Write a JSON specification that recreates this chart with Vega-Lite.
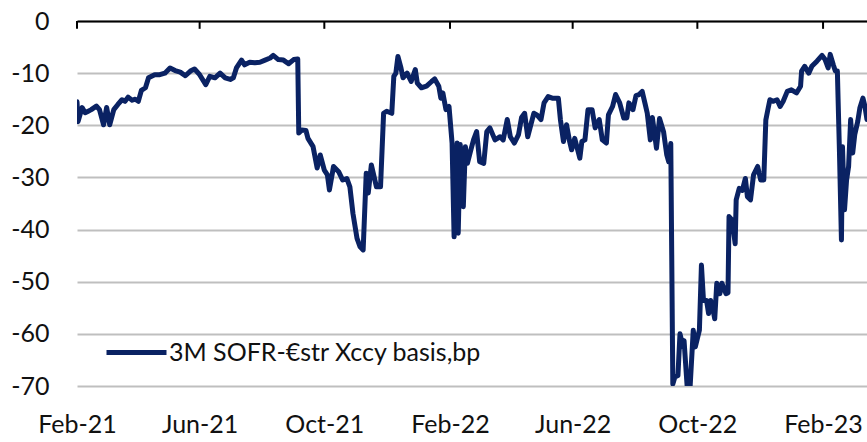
{
  "$schema": "https://vega.github.io/schema/vega-lite/v6.json",
  "autosize": "none",
  "width": 790,
  "height": 365,
  "padding": {"left": 77, "top": 21, "right": 0, "bottom": 56},
  "background": "white",
  "config": {
    "view": {"stroke": null},
    "font": "Lato"
  },
  "datasets": {
    "ticks": [
      {"t":"2021-02-01"},{"t":"2021-06-01"},{"t":"2021-10-01"},{"t":"2022-02-01"},
      {"t":"2022-06-01"},{"t":"2022-10-01"},{"t":"2023-02-01"}
    ],
    "basis": [
      {"d":"2021-02-01","v":-15.5},{"d":"2021-02-02","v":-19.3},{"d":"2021-02-06","v":-16.6},{"d":"2021-02-09","v":-17.6},
      {"d":"2021-02-12","v":-17.3},{"d":"2021-02-15","v":-17.0},{"d":"2021-02-20","v":-16.3},{"d":"2021-02-23","v":-17.0},
      {"d":"2021-02-27","v":-19.9},{"d":"2021-03-02","v":-16.6},{"d":"2021-03-05","v":-19.9},{"d":"2021-03-09","v":-17.0},
      {"d":"2021-03-13","v":-16.0},{"d":"2021-03-17","v":-15.1},{"d":"2021-03-20","v":-15.4},{"d":"2021-03-23","v":-14.6},
      {"d":"2021-03-27","v":-15.2},{"d":"2021-03-30","v":-15.0},{"d":"2021-04-02","v":-15.4},{"d":"2021-04-05","v":-13.3},
      {"d":"2021-04-09","v":-12.8},{"d":"2021-04-12","v":-10.9},{"d":"2021-04-15","v":-10.6},{"d":"2021-04-18","v":-10.3},
      {"d":"2021-04-23","v":-10.3},{"d":"2021-04-28","v":-10.0},{"d":"2021-05-03","v":-9.0},{"d":"2021-05-08","v":-9.5},
      {"d":"2021-05-13","v":-9.8},{"d":"2021-05-18","v":-10.5},{"d":"2021-05-23","v":-9.6},{"d":"2021-05-27","v":-9.2},
      {"d":"2021-06-01","v":-10.3},{"d":"2021-06-07","v":-12.2},{"d":"2021-06-11","v":-10.6},{"d":"2021-06-16","v":-10.9},
      {"d":"2021-06-21","v":-10.0},{"d":"2021-06-26","v":-10.9},{"d":"2021-07-01","v":-11.2},{"d":"2021-07-04","v":-10.9},
      {"d":"2021-07-07","v":-9.0},{"d":"2021-07-12","v":-7.5},{"d":"2021-07-15","v":-8.4},{"d":"2021-07-20","v":-7.9},
      {"d":"2021-07-25","v":-8.0},{"d":"2021-07-30","v":-7.9},{"d":"2021-08-04","v":-7.5},{"d":"2021-08-09","v":-7.1},
      {"d":"2021-08-12","v":-6.6},{"d":"2021-08-17","v":-7.4},{"d":"2021-08-22","v":-7.5},{"d":"2021-08-27","v":-8.2},
      {"d":"2021-09-01","v":-7.4},{"d":"2021-09-05","v":-7.3},{"d":"2021-09-06","v":-21.5},{"d":"2021-09-09","v":-20.9},
      {"d":"2021-09-13","v":-21.0},{"d":"2021-09-15","v":-22.5},{"d":"2021-09-20","v":-24.1},{"d":"2021-09-24","v":-28.2},
      {"d":"2021-09-27","v":-25.7},{"d":"2021-10-01","v":-28.6},{"d":"2021-10-04","v":-29.5},{"d":"2021-10-06","v":-32.4},
      {"d":"2021-10-10","v":-27.9},{"d":"2021-10-15","v":-28.9},{"d":"2021-10-19","v":-30.5},{"d":"2021-10-23","v":-30.2},
      {"d":"2021-10-26","v":-31.8},{"d":"2021-10-29","v":-36.9},{"d":"2021-11-02","v":-41.7},{"d":"2021-11-05","v":-43.3},
      {"d":"2021-11-08","v":-43.9},{"d":"2021-11-11","v":-29.2},{"d":"2021-11-13","v":-33.0},{"d":"2021-11-16","v":-27.6},
      {"d":"2021-11-21","v":-31.8},{"d":"2021-11-25","v":-31.8},{"d":"2021-11-28","v":-17.7},{"d":"2021-12-01","v":-17.3},
      {"d":"2021-12-06","v":-17.7},{"d":"2021-12-08","v":-10.6},{"d":"2021-12-10","v":-10.0},{"d":"2021-12-12","v":-6.8},
      {"d":"2021-12-15","v":-9.0},{"d":"2021-12-17","v":-10.9},{"d":"2021-12-21","v":-10.0},{"d":"2021-12-25","v":-11.6},
      {"d":"2021-12-29","v":-9.3},{"d":"2021-12-31","v":-11.9},{"d":"2022-01-04","v":-12.8},{"d":"2022-01-09","v":-12.5},
      {"d":"2022-01-14","v":-11.6},{"d":"2022-01-17","v":-11.1},{"d":"2022-01-21","v":-12.5},{"d":"2022-01-23","v":-14.8},
      {"d":"2022-01-25","v":-13.8},{"d":"2022-01-28","v":-17.0},{"d":"2022-01-31","v":-16.4},{"d":"2022-02-03","v":-23.4},
      {"d":"2022-02-05","v":-41.4},{"d":"2022-02-08","v":-23.4},{"d":"2022-02-09","v":-40.7},{"d":"2022-02-11","v":-23.7},
      {"d":"2022-02-14","v":-35.6},{"d":"2022-02-16","v":-24.1},{"d":"2022-02-18","v":-27.3},{"d":"2022-02-21","v":-25.0},
      {"d":"2022-02-24","v":-22.8},{"d":"2022-02-27","v":-21.2},{"d":"2022-03-02","v":-27.0},{"d":"2022-03-06","v":-27.3},
      {"d":"2022-03-09","v":-21.2},{"d":"2022-03-12","v":-20.5},{"d":"2022-03-17","v":-22.8},{"d":"2022-03-22","v":-22.2},
      {"d":"2022-03-25","v":-22.8},{"d":"2022-03-29","v":-18.9},{"d":"2022-04-01","v":-22.2},{"d":"2022-04-05","v":-23.4},
      {"d":"2022-04-09","v":-21.8},{"d":"2022-04-12","v":-18.5},{"d":"2022-04-15","v":-17.7},{"d":"2022-04-18","v":-22.2},
      {"d":"2022-04-24","v":-17.7},{"d":"2022-04-27","v":-18.0},{"d":"2022-05-01","v":-18.9},{"d":"2022-05-04","v":-15.7},
      {"d":"2022-05-08","v":-14.5},{"d":"2022-05-12","v":-14.8},{"d":"2022-05-15","v":-14.8},{"d":"2022-05-18","v":-14.8},
      {"d":"2022-05-20","v":-18.9},{"d":"2022-05-23","v":-23.1},{"d":"2022-05-26","v":-19.9},{"d":"2022-05-29","v":-23.1},
      {"d":"2022-05-31","v":-24.7},{"d":"2022-06-03","v":-22.5},{"d":"2022-06-08","v":-26.3},{"d":"2022-06-10","v":-23.1},
      {"d":"2022-06-13","v":-22.8},{"d":"2022-06-16","v":-17.0},{"d":"2022-06-20","v":-17.0},{"d":"2022-06-23","v":-20.5},
      {"d":"2022-06-27","v":-18.9},{"d":"2022-06-30","v":-22.8},{"d":"2022-07-04","v":-23.4},{"d":"2022-07-06","v":-18.0},
      {"d":"2022-07-10","v":-16.4},{"d":"2022-07-13","v":-14.1},{"d":"2022-07-17","v":-15.7},{"d":"2022-07-21","v":-18.6},
      {"d":"2022-07-24","v":-18.6},{"d":"2022-07-26","v":-15.7},{"d":"2022-07-30","v":-17.0},{"d":"2022-08-02","v":-14.3},
      {"d":"2022-08-05","v":-14.1},{"d":"2022-08-08","v":-13.5},{"d":"2022-08-11","v":-16.0},{"d":"2022-08-13","v":-17.7},
      {"d":"2022-08-16","v":-22.8},{"d":"2022-08-18","v":-18.5},{"d":"2022-08-22","v":-24.4},{"d":"2022-08-25","v":-18.7},
      {"d":"2022-08-29","v":-21.3},{"d":"2022-09-01","v":-25.6},{"d":"2022-09-03","v":-27.0},{"d":"2022-09-05","v":-23.5},
      {"d":"2022-09-07","v":-69.6},{"d":"2022-09-09","v":-68.3},{"d":"2022-09-12","v":-68.0},{"d":"2022-09-14","v":-60.0},
      {"d":"2022-09-17","v":-62.5},{"d":"2022-09-18","v":-61.3},{"d":"2022-09-21","v":-70.0},{"d":"2022-09-24","v":-69.9},
      {"d":"2022-09-27","v":-59.3},{"d":"2022-09-29","v":-62.5},{"d":"2022-10-03","v":-59.3},{"d":"2022-10-05","v":-46.8},
      {"d":"2022-10-07","v":-53.6},{"d":"2022-10-10","v":-53.6},{"d":"2022-10-12","v":-56.1},{"d":"2022-10-14","v":-53.6},
      {"d":"2022-10-16","v":-55.0},{"d":"2022-10-18","v":-57.1},{"d":"2022-10-20","v":-50.3},{"d":"2022-10-23","v":-52.3},
      {"d":"2022-10-25","v":-50.3},{"d":"2022-10-29","v":-52.3},{"d":"2022-10-31","v":-52.1},{"d":"2022-11-01","v":-37.5},
      {"d":"2022-11-04","v":-38.2},{"d":"2022-11-07","v":-42.7},{"d":"2022-11-08","v":-34.3},{"d":"2022-11-11","v":-32.1},
      {"d":"2022-11-14","v":-32.5},{"d":"2022-11-17","v":-30.2},{"d":"2022-11-19","v":-33.7},{"d":"2022-11-22","v":-34.3},
      {"d":"2022-11-25","v":-29.5},{"d":"2022-11-29","v":-27.9},{"d":"2022-12-02","v":-30.5},{"d":"2022-12-05","v":-30.5},
      {"d":"2022-12-07","v":-19.0},{"d":"2022-12-09","v":-17.0},{"d":"2022-12-11","v":-15.1},{"d":"2022-12-14","v":-15.4},
      {"d":"2022-12-18","v":-15.1},{"d":"2022-12-21","v":-16.4},{"d":"2022-12-24","v":-15.4},{"d":"2022-12-28","v":-13.5},
      {"d":"2023-01-01","v":-13.2},{"d":"2023-01-06","v":-13.8},{"d":"2023-01-10","v":-12.5},{"d":"2023-01-11","v":-9.6},
      {"d":"2023-01-14","v":-8.7},{"d":"2023-01-18","v":-10.0},{"d":"2023-01-21","v":-8.7},{"d":"2023-01-26","v":-7.7},
      {"d":"2023-01-31","v":-6.6},{"d":"2023-02-03","v":-7.4},{"d":"2023-02-06","v":-9.0},{"d":"2023-02-08","v":-6.4},
      {"d":"2023-02-11","v":-8.4},{"d":"2023-02-13","v":-9.6},{"d":"2023-02-15","v":-9.6},{"d":"2023-02-17","v":-24.7},
      {"d":"2023-02-19","v":-42.0},{"d":"2023-02-20","v":-24.1},{"d":"2023-02-22","v":-36.2},{"d":"2023-02-24","v":-30.5},
      {"d":"2023-02-26","v":-27.9},{"d":"2023-02-28","v":-18.9},{"d":"2023-03-02","v":-25.3},{"d":"2023-03-04","v":-21.8},
      {"d":"2023-03-07","v":-19.2},{"d":"2023-03-09","v":-16.7},{"d":"2023-03-12","v":-14.8},{"d":"2023-03-14","v":-16.4},
      {"d":"2023-03-16","v":-18.9}
    ]
  },
  "layer": [
    {
      "data": {"name": "basis"},
      "mark": {"type": "line", "strokeWidth": 5, "strokeJoin": "round", "strokeCap": "round", "clip": true},
      "encoding": {
        "x": {
          "field": "d", "type": "temporal",
          "scale": {"type": "utc", "domain": [{"year": 2021, "month": 2, "date": 1, "utc": true}, {"year": 2023, "month": 3, "date": 16, "utc": true}]},
          "axis": {
            "orient": "bottom", "title": null, "domain": false, "ticks": false, "grid": false,
            "labelExpr": "utcFormat(datum.value, '%b-%y')",
            "values": [
              {"year": 2021, "month": 2, "date": 1, "utc": true},
              {"year": 2021, "month": 6, "date": 1, "utc": true},
              {"year": 2021, "month": 10, "date": 1, "utc": true},
              {"year": 2022, "month": 2, "date": 1, "utc": true},
              {"year": 2022, "month": 6, "date": 1, "utc": true},
              {"year": 2022, "month": 10, "date": 1, "utc": true},
              {"year": 2023, "month": 2, "date": 1, "utc": true}
            ],
            "labelFont": "Lato", "labelFontSize": 25, "labelColor": "#111111",
            "labelBaseline": "alphabetic", "labelPadding": 46, "labelFlush": false, "labelOverlap": false
          }
        },
        "y": {
          "field": "v", "type": "quantitative",
          "scale": {"domain": [-70, 0], "nice": false, "zero": false},
          "axis": {
            "title": null, "domain": false, "ticks": false,
            "values": [-70, -60, -50, -40, -30, -20, -10, 0],
            "labelExpr": "datum.value == 0 ? '0' : '-' + abs(datum.value)",
            "grid": true, "gridColor": "#bfbfbf", "gridWidth": 2,
            "labelFont": "Lato", "labelFontSize": 25, "labelColor": "#111111",
            "labelPadding": 28
          }
        },
        "color": {
          "datum": "3M SOFR-€str Xccy basis,bp",
          "scale": {"range": ["#0a2263"]},
          "legend": {
            "orient": "none", "legendX": 27, "legendY": 299, "title": null,
            "symbolType": "stroke", "symbolSize": 3600, "symbolStrokeWidth": 5,
            "labelFont": "Lato", "labelFontSize": 25, "labelColor": "#111111",
            "labelOffset": 0, "labelLimit": 500, "padding": 0
          }
        }
      }
    },
    {
      "data": {"name": "ticks"},
      "mark": {"type": "rule", "color": "#000000", "strokeWidth": 2},
      "encoding": {
        "x": {
          "field": "t", "type": "temporal",
          "axis": {
            "orient": "bottom", "offset": -365, "title": null, "labels": false, "grid": false,
            "domain": true, "domainColor": "#000000", "domainWidth": 2, "ticks": false
          }
        },
        "y": {"datum": 0},
        "y2": {"datum": -1.5}
      }
    }
  ],
  "resolve": {"axis": {"x": "independent"}}
}
